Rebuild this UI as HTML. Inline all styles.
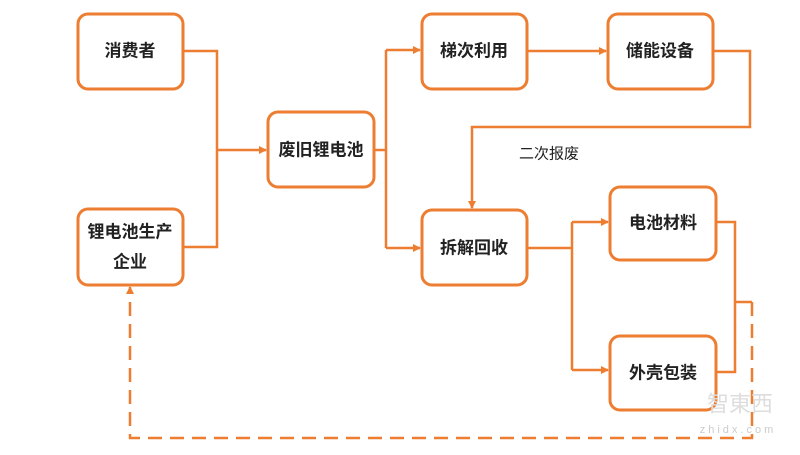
<!DOCTYPE html>
<html><head><meta charset="utf-8"><style>
body{margin:0;background:#fff;}
svg text{font-family:"Liberation Sans","Noto Sans CJK SC",sans-serif;font-size:17px;fill:#222;text-anchor:middle;dominant-baseline:central;font-weight:bold}
</style></head><body>
<svg width="800" height="450" viewBox="0 0 800 450" xmlns="http://www.w3.org/2000/svg">
<defs><marker id="a" markerWidth="8" markerHeight="8" refX="7" refY="4" orient="auto" markerUnits="userSpaceOnUse"><path d="M0,0 L8,4 L0,8 z" fill="#ed7d31"/></marker></defs>
<g fill="#fff" stroke="#ed7d31" stroke-width="3">
<rect x="78" y="14" width="105" height="75" rx="10"/>
<rect x="78" y="209" width="105" height="76" rx="10"/>
<rect x="268" y="112" width="106" height="75" rx="10"/>
<rect x="422" y="14" width="105" height="75" rx="10"/>
<rect x="608" y="14" width="105" height="75" rx="10"/>
<rect x="422" y="210" width="105" height="75" rx="10"/>
<rect x="610" y="187" width="106" height="73" rx="10"/>
<rect x="610" y="336" width="106" height="74" rx="10"/>
</g>
<g fill="none" stroke="#ed7d31" stroke-width="2.5">
<path d="M183 51H217V247H183"/>
<path d="M217 150H266" marker-end="url(#a)"/>
<path d="M374 150H386"/><path d="M386 50V248"/>
<path d="M386 50H420" marker-end="url(#a)"/>
<path d="M386 248H420" marker-end="url(#a)"/>
<path d="M527 51H606" marker-end="url(#a)"/>
<path d="M713 51H750V127H472V208" marker-end="url(#a)"/>
<path d="M527 248H572"/><path d="M572 222V370"/>
<path d="M572 222H608" marker-end="url(#a)"/>
<path d="M572 370H608" marker-end="url(#a)"/>
<path d="M716 222H735V372H716"/>
<path d="M735 302H752"/>
<path d="M752 302V438H130V287" stroke-dasharray="14,8" marker-end="url(#a)"/>
</g>
<text x="130" y="51">消费者</text>
<text x="130" y="232">锂电池生产</text>
<text x="130" y="262">企业</text>
<text x="321" y="150">废旧锂电池</text>
<text x="474" y="51">梯次利用</text>
<text x="660" y="51">储能设备</text>
<text x="474" y="248">拆解回收</text>
<text x="663" y="223">电池材料</text>
<text x="663" y="373">外壳包装</text>
<text x="549" y="154" style="font-weight:normal;font-size:15px">二次报废</text>
<text x="740" y="404" style="font-size:22px;fill:#ddd;font-weight:normal">智東西</text>
<text x="738" y="430" style="font-size:11px;fill:#ccc;font-weight:normal;letter-spacing:3px">zhidx.com</text>
</svg>
</body></html>
